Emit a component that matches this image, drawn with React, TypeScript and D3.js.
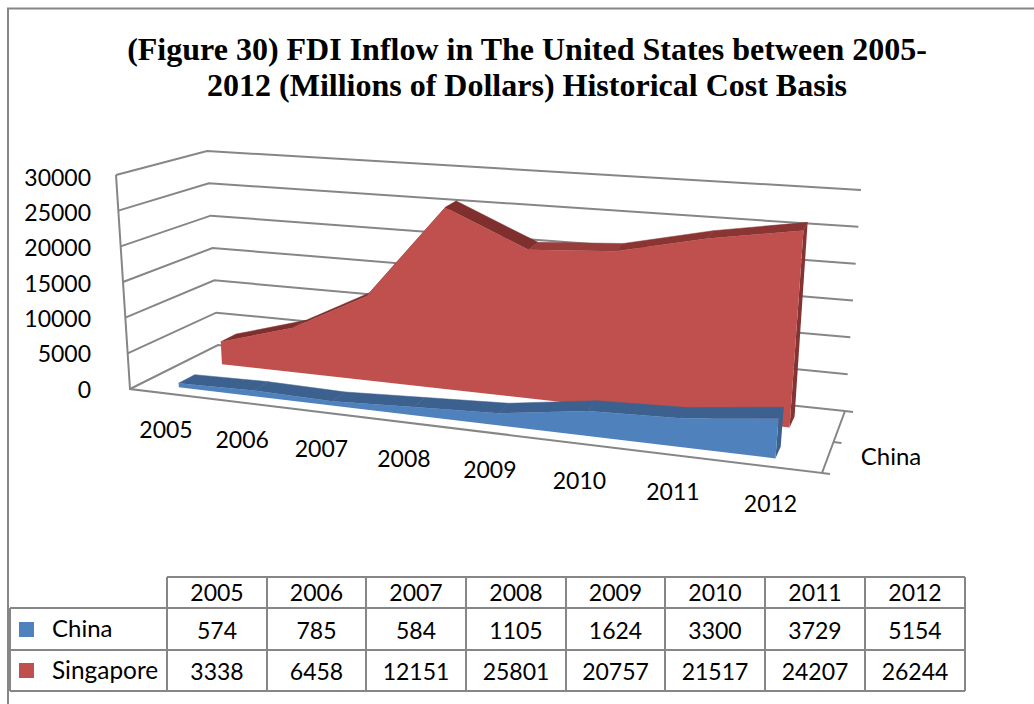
import React from "react";
import * as d3 from "d3";

const years = ["2005", "2006", "2007", "2008", "2009", "2010", "2011", "2012"];
const china = [574, 785, 584, 1105, 1624, 3300, 3729, 5154];
const singapore = [3338, 6458, 12151, 25801, 20757, 21517, 24207, 26244];
const valueTicks = [0, 5000, 10000, 15000, 20000, 25000, 30000];
const titleLines = [
  "(Figure 30) FDI Inflow in The United States between 2005-",
  "2012 (Millions of Dollars) Historical Cost Basis",
];

const GRID = "#868686";
const FONT = "Lato, Carlito, sans-serif";

type P = [number, number];
// Floor and height corners of the 3D box
const A: P = [130, 389], B: P = [218, 345], C: P = [845, 411], D: P = [822, 473];
const hA: P = [-14, -214], hB: P = [-11, -194], hC: P = [16, -221], hD: P = [22, -238];

const mix = (a: P, b: P, t: number): P => [a[0] + (b[0] - a[0]) * t, a[1] + (b[1] - a[1]) * t];
const vScale = d3.scaleLinear().domain([0, 30000]).range([0, 1]);
const labelY = d3.scaleLinear().domain([0, 30000]).range([397.5, 185.5]);
const K = 1.18;
const catU = d3.scaleLinear().domain([-0.5, years.length - 0.5]).range([0, 1]);
const persp = (u: number) => u / (u + K * (1 - u));
const project = (s: number, w: number, v: number): P => {
  const base = mix(mix(A, D, s), mix(B, C, s), w);
  const h = mix(mix(hA, hD, s), mix(hB, hC, s), w);
  const f = vScale(v);
  return [base[0] + h[0] * f, base[1] + h[1] * f];
};
const catS = (i: number) => persp(catU(i));
const path = (pts: P[]) => (d3.line()(pts) as string) + "Z";

function Area3D({ values, wf, wb, front, top, side }: { values: number[]; wf: number; wb: number; front: string; top: string[]; side: string }) {
  const n = values.length;
  return (
    <g>
      {/* back-top surfaces */}
      {values.slice(0, -1).map((v, i) => (
        <path key={i} fill={top[i]} stroke={top[i]} strokeWidth={0.5}
          d={path([project(catS(i), wf, v), project(catS(i + 1), wf, values[i + 1]), project(catS(i + 1), wb, values[i + 1]), project(catS(i), wb, v)])} />
      ))}
      {/* side */}
      <path fill={side} d={path([project(catS(n - 1), wf, values[n - 1]), project(catS(n - 1), wb, values[n - 1]), project(catS(n - 1), wb, 0), project(catS(n - 1), wf, 0)])} />
      {/* front */}
      <path fill={front} d={path([...values.map((v, i) => project(catS(i), wf, v)), project(catS(n - 1), wf, 0), project(catS(0), wf, 0)])} />
    </g>
  );
}

const colX = [167, 267, 366, 466, 566, 665, 765, 865, 965];
const rowY = [577, 608, 650, 691];
const tableLeft = 10;

export default function App() {
  const redTop = ["#7f302e", "#7f302e", "#7f302e", "#7f302e", "#983d3b", "#8a3533", "#8a3533", "#8a3533"];
  const blueTop = years.map(() => "#3c618e");
  return (
    <svg width={1034} height={704} style={{ position: "absolute", left: 0, top: 0, background: "#fff" }}>
      {/* outer frame */}
      <path d="M8,704V8.5H1034" fill="none" stroke={GRID} strokeWidth={2} />

      {titleLines.map((t, i) => (
        <text key={i} x={527} y={60 + i * 36} textAnchor="middle" fontFamily="'Liberation Serif', serif" fontWeight="bold" fontSize={32} fill="#000">{t}</text>
      ))}

      {/* walls and grid */}
      <g fill="none" stroke={GRID} strokeWidth={2}>
        {valueTicks.map((v) => (
          <path key={v} d={d3.line()([project(0, 0, v), project(0, 1, v), project(1, 1, v)]) as string} />
        ))}
        <path d={d3.line()([project(0, 0, 30000), project(0, 0, 0), project(1, 0, 0), project(1, 1, 0)]) as string} />
        {[0, 0.5, 1].map((w) => {
          const p = project(1, w, 0);
          return <path key={w} d={`M${p[0]},${p[1]}l8,1`} />;
        })}
      </g>

      <Area3D values={singapore} wf={0.65} wb={0.83} front="#c0504d" top={redTop} side="#833331" />
      <Area3D values={china} wf={0.14} wb={0.33} front="#4f81bd" top={blueTop} side="#3c618e" />

      {/* axis labels */}
      <g fontFamily={FONT} fontSize={23} fill="#000">
        {valueTicks.map((v) => (
          <text key={v} x={91} y={labelY(v)} textAnchor="end">{d3.format("d")(v)}</text>
        ))}
        {years.map((y, i) => {
          const p = project(catS(i), 0, 0);
          return <text key={y} x={p[0] - 1} y={p[1] + 45} textAnchor="middle">{y}</text>;
        })}
        <text x={891} y={465} textAnchor="middle" fontSize={24}>China</text>
      </g>

      {/* data table */}
      <g fill="none" stroke={GRID} strokeWidth={2}>
        <path d={`M${colX[0]},${rowY[0]}H${colX[8]}`} />
        <path d={`M${tableLeft},${rowY[1]}H${colX[8]}M${tableLeft},${rowY[2]}H${colX[8]}M${tableLeft},${rowY[3]}H${colX[8]}`} />
        <path d={`M${tableLeft},${rowY[1]}V${rowY[3]}`} />
        {colX.map((x) => <path key={x} d={`M${x},${rowY[0]}V${rowY[3]}`} />)}
      </g>
      <rect x={19} y={622} width={15} height={15} fill="#4f81bd" />
      <rect x={19} y={663} width={15} height={15} fill="#c0504d" />
      <g fontFamily={FONT} fontSize={23} fill="#000">
        <text x={52} y={637} fontSize={24}>China</text>
        <text x={52} y={679} fontSize={24.4}>Singapore</text>
        {years.map((y, i) => {
          const cx = (colX[i] + colX[i + 1]) / 2;
          return (
            <g key={y} textAnchor="middle">
              <text x={cx} y={600.5}>{y}</text>
              <text x={cx} y={639}>{china[i]}</text>
              <text x={cx} y={680}>{singapore[i]}</text>
            </g>
          );
        })}
      </g>
    </svg>
  );
}
